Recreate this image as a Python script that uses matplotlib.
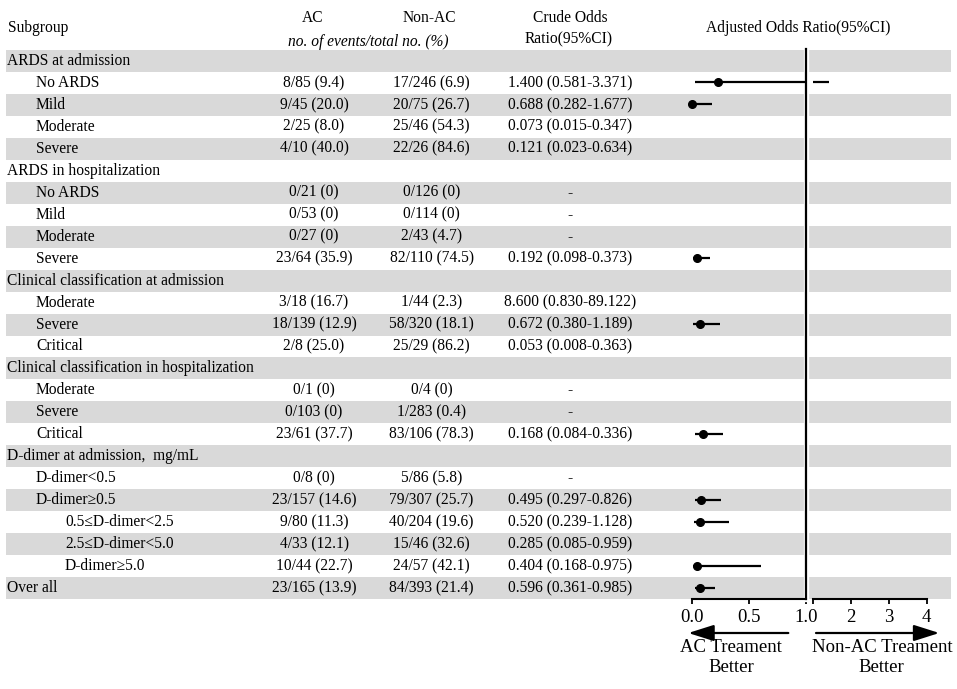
import numpy as np
import matplotlib
matplotlib.use("Agg")
import matplotlib.pyplot as plt

plt.rcParams['font.family'] = ['Liberation Serif', 'DejaVu Serif', 'DejaVu Sans']

# ---------------- data ----------------
subgroups = [
    "ARDS at admission", "No ARDS", "Mild", "Moderate", "Severe",
    "ARDS in hospitalization", "No ARDS", "Mild", "Moderate", "Severe",
    "Clinical classification at admission", "Moderate", "Severe", "Critical",
    "Clinical classification in hospitalization", "Moderate", "Severe", "Critical",
    "D-dimer at admission,  mg/mL", "D-dimer<0.5", "D-dimer\u22650.5",
    "0.5\u2264D-dimer<2.5", "2.5\u2264D-dimer<5.0", "D-dimer\u22655.0",
    "Over all",
]
levels = [0, 1, 1, 1, 1,
          0, 1, 1, 1, 1,
          0, 1, 1, 1,
          0, 1, 1, 1,
          0, 1, 1, 2, 2, 2,
          0]
ac_events = ["", "8/85 (9.4)", "9/45 (20.0)", "2/25 (8.0)", "4/10 (40.0)",
             "", "0/21 (0)", "0/53 (0)", "0/27 (0)", "23/64 (35.9)",
             "", "3/18 (16.7)", "18/139 (12.9)", "2/8 (25.0)",
             "", "0/1 (0)", "0/103 (0)", "23/61 (37.7)",
             "", "0/8 (0)", "23/157 (14.6)", "9/80 (11.3)", "4/33 (12.1)", "10/44 (22.7)",
             "23/165 (13.9)"]
nonac_events = ["", "17/246 (6.9)", "20/75 (26.7)", "25/46 (54.3)", "22/26 (84.6)",
                "", "0/126 (0)", "0/114 (0)", "2/43 (4.7)", "82/110 (74.5)",
                "", "1/44 (2.3)", "58/320 (18.1)", "25/29 (86.2)",
                "", "0/4 (0)", "1/283 (0.4)", "83/106 (78.3)",
                "", "5/86 (5.8)", "79/307 (25.7)", "40/204 (19.6)", "15/46 (32.6)", "24/57 (42.1)",
                "84/393 (21.4)"]
crude_or = ["", "1.400 (0.581-3.371)", "0.688 (0.282-1.677)", "0.073 (0.015-0.347)", "0.121 (0.023-0.634)",
            "", "-", "-", "-", "0.192 (0.098-0.373)",
            "", "8.600 (0.830-89.122)", "0.672 (0.380-1.189)", "0.053 (0.008-0.363)",
            "", "-", "-", "0.168 (0.084-0.336)",
            "", "-", "0.495 (0.297-0.826)", "0.520 (0.239-1.128)", "0.285 (0.085-0.959)", "0.404 (0.168-0.975)",
            "0.596 (0.361-0.985)"]

# adjusted odds ratios, by row index
adj_rows = [1, 2, 9, 12, 17, 20, 21, 23, 24]
adj_or = [0.224, 0.000, 0.039, 0.071, 0.092, 0.079, 0.068, 0.039, 0.065]
adj_lo = [0.026, 0.000, 0.009, 0.009, 0.024, 0.021, 0.015, 0.005, 0.021]
adj_hi = [1.44, 0.176, 0.159, 0.244, 0.271, 0.253, 0.326, 0.608, 0.200]

left_ticks = [0.0, 0.5, 1.0]
left_ticklabels = ["0.0", "0.5", "1.0"]
right_ticks = [1, 2, 3, 4]
right_ticklabels = ["", "2", "3", "4"]

# ---------------- layout ----------------
W, H = 957, 689
ROW0, ROWH = 61.0, 21.96
BAND = '#d9d9d9'
FS = 11.2


def hy(ypx):
    return (ypx - ROW0) / ROWH


fig = plt.figure(figsize=(W / 100, H / 100), dpi=100)
bg = fig.add_axes([0, 0, 1, 1])
bg.set_xlim(0, W)
bg.set_ylim(hy(H), hy(0))
bg.axis('off')

n = len(subgroups)
for i in range(n):
    if i % 2 == 0:
        bg.axhspan(i - 0.5, i + 0.5, xmin=6 / W, xmax=951 / W, color=BAND, lw=0, zorder=0)

indent = {0: 7.3, 1: 36, 2: 65}
for i in range(n):
    bg.text(indent[levels[i]], i, subgroups[i], ha='left', va='center', fontsize=FS)
    if ac_events[i]:
        bg.text(314, i, ac_events[i], ha='center', va='center', fontsize=FS)
    if nonac_events[i]:
        bg.text(431.5, i, nonac_events[i], ha='center', va='center', fontsize=FS)
    if crude_or[i]:
        bg.text(570, i, crude_or[i], ha='center', va='center', fontsize=FS)

# headers
bg.text(8.3, hy(28.5), "Subgroup", ha='left', va='center', fontsize=FS)
bg.text(313, hy(18.5), "AC", ha='center', va='center', fontsize=FS)
bg.text(429.5, hy(18.5), "Non-AC", ha='center', va='center', fontsize=FS)
bg.text(368, hy(41.5), "no. of events/total no. (%)", ha='center', va='center',
        fontsize=FS, style='italic')
bg.text(570, hy(17.5), "Crude Odds", ha='center', va='center', fontsize=FS)
bg.text(569, hy(39.5), "Ratio(95%CI)", ha='center', va='center', fontsize=FS)
bg.text(798, hy(28.5), "Adjusted Odds Ratio(95%CI)", ha='center', va='center', fontsize=FS)

# ---------------- forest axes ----------------
ax_bottom = 599.3
ax_top = 49.3
fy = (H - ax_bottom) / H
fh = (ax_bottom - ax_top) / H

axL = fig.add_axes([692.3 / W, fy, (805.7 - 692.3) / W, fh])
axR = fig.add_axes([812.7 / W, fy, (926.7 - 812.7) / W, fh])
axL.set_xlim(0, 1)
axR.set_xlim(1, 4)

for ax in (axL, axR):
    ax.set_ylim(n - 0.5, -0.5)
    ax.patch.set_alpha(0)
    for s in ('top', 'right', 'left'):
        ax.spines[s].set_visible(False)
    ax.spines['bottom'].set_linewidth(1.5)
    ax.set_yticks([])
    ax.tick_params(axis='x', direction='out', length=3.5, width=1.3, pad=3.5,
                   labelsize=13.5)
    ax.hlines(adj_rows, adj_lo, adj_hi, color='black', lw=1.6, zorder=3)

# point estimates (all lie on the 0-1 part of the scale)
axL.plot(adj_or, adj_rows, 'o', color='black', ms=5.5, zorder=4, clip_on=False)

axL.set_xticks(left_ticks)
axL.set_xticklabels(left_ticklabels)
axR.set_xticks(right_ticks)
axR.set_xticklabels(right_ticklabels)

# reference line at 1 with white gap in the bands
axL.axvline(1.0, color='white', lw=3.8, zorder=2, clip_on=False)
axL.axvline(1.0, color='black', lw=1.6, zorder=5, clip_on=False)

# arrows and direction labels
arrow_y = hy(633)
bg.annotate('', xy=(688.3, arrow_y), xytext=(788.3, arrow_y),
            arrowprops=dict(arrowstyle='-|>,head_length=1.2,head_width=0.38',
                            mutation_scale=13, lw=1.6, color='black',
                            shrinkA=0, shrinkB=0))
bg.annotate('', xy=(939.3, arrow_y), xytext=(816, arrow_y),
            arrowprops=dict(arrowstyle='-|>,head_length=1.2,head_width=0.38',
                            mutation_scale=13, lw=1.6, color='black',
                            shrinkA=0, shrinkB=0))

BFS = 13.5
bg.text(731, hy(648), "AC Treament", ha='center', va='center', fontsize=BFS)
bg.text(731, hy(668), "Better", ha='center', va='center', fontsize=BFS)
bg.text(882, hy(648), "Non-AC Treament", ha='center', va='center', fontsize=BFS)
bg.text(881, hy(668), "Better", ha='center', va='center', fontsize=BFS)

fig.savefig("out.png", dpi=100)
